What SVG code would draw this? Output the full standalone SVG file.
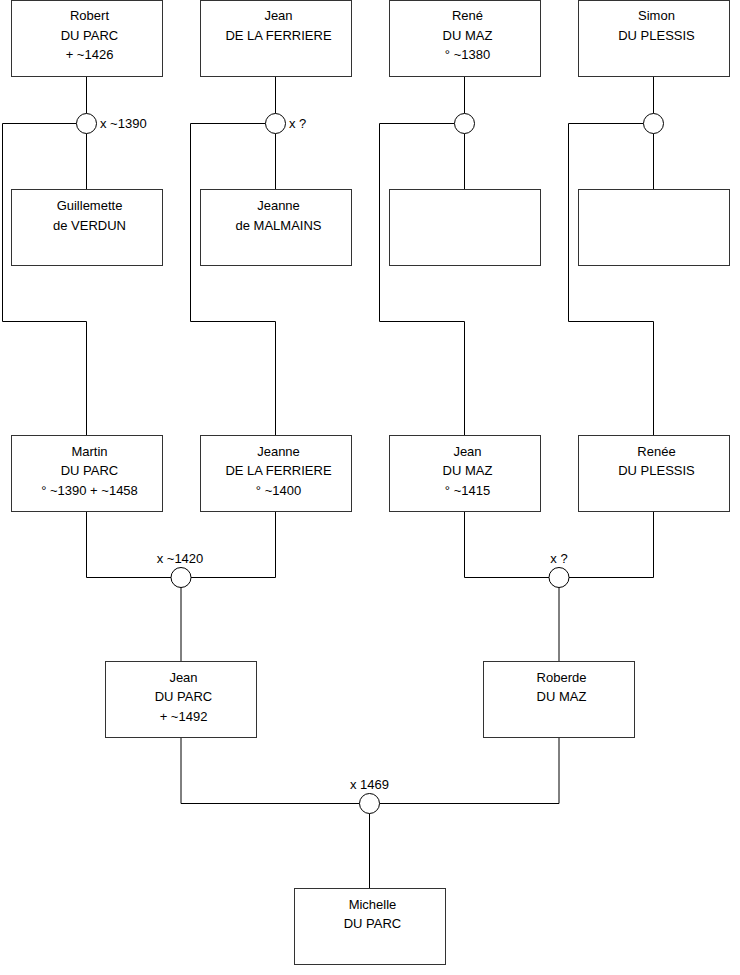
<svg xmlns="http://www.w3.org/2000/svg" width="740" height="975" viewBox="0 0 740 975">
<style>
.box{fill:#fff;stroke:#333;stroke-width:1}
.t{font-family:"Liberation Sans",Arial,sans-serif;font-size:13px;fill:#000;text-anchor:middle}
.l{font-family:"Liberation Sans",Arial,sans-serif;font-size:13px;fill:#000}
.c{fill:none;stroke:#000;stroke-width:1}
.u{fill:#fff;stroke:#000;stroke-width:1}
</style>
<rect width="740" height="975" fill="#fff"/>
<g id="connectors">
<path class="c" d="M86.5 76V113.5M86.5 133.5V189M76.5 123.5H2.5V321.5H86.5V435"/>
<path class="c" d="M275.5 76V113.5M275.5 133.5V189M265.5 123.5H190.5V321.5H275.5V435"/>
<path class="c" d="M464.5 76V113.5M464.5 133.5V189M454.5 123.5H379.5V321.5H464.5V435"/>
<path class="c" d="M653.5 76V113.5M653.5 133.5V189M643.5 123.5H568.5V321.5H653.5V435"/>
<path class="c" d="M86.5 511V577.5H171M275.5 511V577.5H191M181 587.5V661"/>
<path class="c" d="M464.5 511V577.5H549M653.5 511V577.5H569M559 587.5V661"/>
<path class="c" d="M181 737V803.5H359.5M559 737V803.5H379.5M369.5 813.5V888"/>
<circle class="u" cx="86.5" cy="123.5" r="10"/>
<circle class="u" cx="275.5" cy="123.5" r="10"/>
<circle class="u" cx="464.5" cy="123.5" r="10"/>
<circle class="u" cx="653.5" cy="123.5" r="10"/>
<circle class="u" cx="181" cy="577.5" r="10"/>
<circle class="u" cx="559" cy="577.5" r="10"/>
<circle class="u" cx="369.5" cy="803.5" r="10"/>
<text class="l" x="100" y="128">x ~1390</text>
<text class="l" x="289" y="128">x ?</text>
<text class="t" x="180" y="563">x ~1420</text>
<text class="t" x="559" y="563">x ?</text>
<text class="t" x="369.5" y="789">x 1469</text>
</g>
<g id="robert"><rect class="box" x="11.5" y="0.5" width="151" height="76"/><text class="t" x="89.5" y="20">Robert</text><text class="t" x="89.5" y="39.5">DU PARC</text><text class="t" x="89.5" y="59">+ ~1426</text></g>
<g id="jean-ferriere"><rect class="box" x="200.5" y="0.5" width="151" height="76"/><text class="t" x="278.5" y="20">Jean</text><text class="t" x="278.5" y="39.5">DE LA FERRIERE</text></g>
<g id="rene"><rect class="box" x="389.5" y="0.5" width="151" height="76"/><text class="t" x="467.5" y="20">René</text><text class="t" x="467.5" y="39.5">DU MAZ</text><text class="t" x="467.5" y="59">° ~1380</text></g>
<g id="simon"><rect class="box" x="578.5" y="0.5" width="151" height="76"/><text class="t" x="656.5" y="20">Simon</text><text class="t" x="656.5" y="39.5">DU PLESSIS</text></g>
<g id="guillemette"><rect class="box" x="11.5" y="189.5" width="151" height="76"/><text class="t" x="89.5" y="210">Guillemette</text><text class="t" x="89.5" y="230">de VERDUN</text></g>
<g id="jeanne-malmains"><rect class="box" x="200.5" y="189.5" width="151" height="76"/><text class="t" x="278.5" y="210">Jeanne</text><text class="t" x="278.5" y="230">de MALMAINS</text></g>
<g id="empty1"><rect class="box" x="389.5" y="189.5" width="151" height="76"/></g>
<g id="empty2"><rect class="box" x="578.5" y="189.5" width="151" height="76"/></g>
<g id="martin"><rect class="box" x="11.5" y="435.5" width="151" height="76"/><text class="t" x="89.5" y="455.5">Martin</text><text class="t" x="89.5" y="475">DU PARC</text><text class="t" x="89.5" y="494.5">° ~1390 + ~1458</text></g>
<g id="jeanne-ferriere"><rect class="box" x="200.5" y="435.5" width="151" height="76"/><text class="t" x="278.5" y="455.5">Jeanne</text><text class="t" x="278.5" y="475">DE LA FERRIERE</text><text class="t" x="278.5" y="494.5">° ~1400</text></g>
<g id="jean-maz"><rect class="box" x="389.5" y="435.5" width="151" height="76"/><text class="t" x="467.5" y="455.5">Jean</text><text class="t" x="467.5" y="475">DU MAZ</text><text class="t" x="467.5" y="494.5">° ~1415</text></g>
<g id="renee"><rect class="box" x="578.5" y="435.5" width="151" height="76"/><text class="t" x="656.5" y="455.5">Renée</text><text class="t" x="656.5" y="475">DU PLESSIS</text></g>
<g id="jean-parc"><rect class="box" x="105.5" y="661.5" width="151" height="76"/><text class="t" x="183.5" y="681.5">Jean</text><text class="t" x="183.5" y="701">DU PARC</text><text class="t" x="183.5" y="720.5">+ ~1492</text></g>
<g id="roberde"><rect class="box" x="483.5" y="661.5" width="151" height="76"/><text class="t" x="561.5" y="681.5">Roberde</text><text class="t" x="561.5" y="701">DU MAZ</text></g>
<g id="michelle"><rect class="box" x="294.5" y="888.5" width="151" height="76"/><text class="t" x="372.5" y="908.5">Michelle</text><text class="t" x="372.5" y="928">DU PARC</text></g>
</svg>
